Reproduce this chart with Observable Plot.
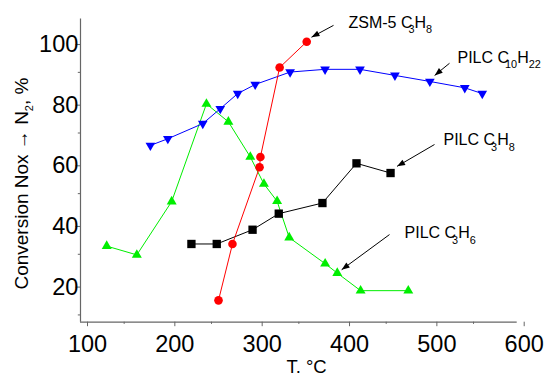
<!DOCTYPE html>
<html>
<head>
<meta charset="utf-8">
<script src="https://cdn.jsdelivr.net/npm/d3@7"></script>
<script src="https://cdn.jsdelivr.net/npm/@observablehq/plot@0.6"></script>
<style>
  html, body { margin: 0; padding: 0; background: #fff; }
  svg { display: block; }
</style>
</head>
<body>
<div id="chart"></div>
<script>
// ---- axes ----
const xDomain = [100, 600];
const yDomain = [7.6, 107.6];
const xTicks = [100, 200, 300, 400, 500, 600];
const xMinorTicks = [150, 250, 350, 450, 550];
const yTicks = [20, 40, 60, 80, 100];
const yMinorTicks = [10, 30, 50, 70, 90];
const xLabel = "T, °C";
const yLabel = "Conversion Nox → N_2, %";

// ---- series: PILC C10H22 (blue, down triangles) ----
const c10T = [180, 200, 240, 260, 280, 300, 340, 380, 420, 460, 500, 540, 560];
const c10Conv = [65.9, 68.1, 73.1, 78.0, 83.0, 86.0, 90.1, 91.0, 91.0, 89.0, 87.0, 84.9, 83.0];

// ---- series: ZSM-5 C3H8 (red, circles) ----
const zsmT = [258, 274, 305, 306, 328, 359];
const zsmConv = [14.8, 33.4, 58.7, 62.1, 91.6, 100.1];

// ---- series: PILC C3H8 (black, squares) ----
const c3h8T = [227, 256, 297, 327, 377, 416, 455];
const c3h8Conv = [33.4, 33.4, 38.1, 43.4, 46.9, 60.0, 56.8];

// ---- series: PILC C3H6 (green, up triangles) ----
const c3h6T = [130, 164.5, 204.4, 244.2, 269.3, 294.4, 310, 325.1, 339, 380.1, 394, 420.7, 475.3];
const c3h6Conv = [32.7, 29.8, 47.4, 79.6, 73.7, 62.1, 53.2, 47.5, 35.5, 26.9, 23.8, 18.0, 18.0];

// ---- annotations ----
const annText = ["ZSM-5 C_3H_8", "PILC C_10H_22", "PILC C_3H_8", "PILC C_3H_6"];
const annT = [406.8, 531.6, 515.6, 471];
const annConv = [106.2, 94.7, 67.6, 36.9];
const arrowFromT = [389.7, 522.5, 505.3, 453.8];
const arrowFromConv = [105.5, 93.0, 66.2, 36.5];
const arrowToT = [364.5, 505.5, 462.5, 399];
const arrowToConv = [101.6, 89.0, 59.0, 24.9];

// ---- build ----
const W = 545, H = 373;
const mL = 80, mR = 28.3, mT = 18.5, mB = 51.3;
const xs = d3.scaleLinear(xDomain, [mL, W - mR]);
const ys = d3.scaleLinear(yDomain, [H - mB, mT]);

const series = (T, C) => T.map((t, i) => ({t, c: C[i]}));
const c10 = series(c10T, c10Conv);
const zsm = series(zsmT, zsmConv);
const c3h8 = series(c3h8T, c3h8Conv);
const c3h6 = series(c3h6T, c3h6Conv);
const ann = annText.map((s, i) => ({s, t: annT[i], c: annConv[i]}));
const arrows = arrowFromT.map((t, i) => {
  const x1 = t, y1 = arrowFromConv[i], x2 = arrowToT[i], y2 = arrowToConv[i];
  const dx = xs(x2) - xs(x1), dy = ys(y2) - ys(y1);
  return {x1, y1, x2, y2, angle: Math.atan2(dx, -dy) * 180 / Math.PI};
});

// filled arrow head with tip at the origin, pointing up
const arrowHead = {
  draw(ctx) {
    ctx.moveTo(0, 0);
    ctx.lineTo(-3, 8);
    ctx.lineTo(3, 8);
    ctx.closePath();
  }
};

const FONT = "Liberation Sans, Arial, Helvetica, sans-serif";
const GREEN = "#00ee00";
const axisGray = "#666";

const plot = Plot.plot({
  width: W,
  height: H,
  marginLeft: mL, marginRight: mR, marginTop: mT, marginBottom: mB,
  x: {domain: xDomain},
  y: {domain: yDomain},
  style: {fontFamily: FONT, color: "black", background: "white", overflow: "visible"},
  marks: [
    // axis lines
    Plot.ruleX([xDomain[0]], {stroke: axisGray, strokeWidth: 1.2}),
    Plot.ruleY([yDomain[0]], {stroke: axisGray, strokeWidth: 1.2}),
    // major & minor ticks
    Plot.axisX(xTicks, {tickSize: 4.5, tickPadding: 8.5, fontSize: 23.5, dx: 7, stroke: axisGray, fill: "black", label: null}),
    Plot.axisX(xMinorTicks, {tickSize: 2.2, tickFormat: () => "", stroke: axisGray, label: null}),
    Plot.axisY(yTicks, {tickSize: 4.5, tickPadding: -2.3, fontSize: 23.5, dy: 2.5, stroke: axisGray, fill: "black", label: null}),
    Plot.axisY(yMinorTicks, {tickSize: 2.2, tickFormat: () => "", stroke: axisGray, label: null}),
    // axis titles
    Plot.text([yLabel], {frameAnchor: "left", textAnchor: "middle", rotate: -90, dx: -59, dy: 13, fontSize: 19, fill: "black"}),
    Plot.text([xLabel], {frameAnchor: "bottom", textAnchor: "middle", lineAnchor: "top", dx: 7.7, dy: 37.5, fontSize: 18.5, fill: "black"}),
    // PILC C3H6
    Plot.line(c3h6, {x: "t", y: "c", stroke: GREEN, strokeWidth: 1}),
    Plot.dot(c3h6, {x: "t", y: "c", symbol: "triangle", r: 3.7, fill: GREEN}),
    // PILC C10H22
    Plot.line(c10, {x: "t", y: "c", stroke: "#0000ff", strokeWidth: 1}),
    Plot.dot(c10, {x: "t", y: "c", symbol: "triangle", rotate: 180, r: 3.6, fill: "#0000ff"}),
    // PILC C3H8
    Plot.line(c3h8, {x: "t", y: "c", stroke: "black", strokeWidth: 1}),
    Plot.dot(c3h8, {x: "t", y: "c", symbol: "square", r: 4.7, fill: "black"}),
    // ZSM-5 C3H8
    Plot.line(zsm, {x: "t", y: "c", stroke: "#ff0000", strokeWidth: 1}),
    Plot.dot(zsm, {x: "t", y: "c", r: 4.3, fill: "#ff0000"}),
    // annotations
    Plot.link(arrows, {x1: "x1", y1: "y1", x2: "x2", y2: "y2", stroke: "black", strokeWidth: 1}),
    Plot.dot(arrows, {x: "x2", y: "y2", symbol: arrowHead, rotate: "angle", fill: "black"}),
    Plot.text(ann, {x: "t", y: "c", text: "s", textAnchor: "start", fontSize: 16, fill: "black"})
  ]
});

// subscripts (e.g. C_3H_8)
const NS = "http://www.w3.org/2000/svg";
plot.querySelectorAll("text").forEach(el => {
  if (el.querySelector("tspan")) return;
  const s = el.textContent;
  if (!s.includes("_")) return;
  const fs = parseFloat(el.getAttribute("font-size") || getComputedStyle(el).fontSize) || 16;
  const subSize = fs * 0.68, shift = fs * 0.32;
  const parts = s.split(/_(\d+)/);
  el.textContent = "";
  let shifted = false;
  parts.forEach((p, i) => {
    if (!p) return;
    const t = document.createElementNS(NS, "tspan");
    t.textContent = p;
    if (i % 2 === 1) {
      t.setAttribute("font-size", subSize);
      t.setAttribute("dy", shift);
      if (/C$/.test(parts[i - 1])) t.setAttribute("dx", -fs * 0.25);
      shifted = true;
    } else if (shifted) {
      t.setAttribute("dy", -shift);
      shifted = false;
    }
    el.appendChild(t);
  });
});

document.getElementById("chart").appendChild(plot);
</script>
</body>
</html>
